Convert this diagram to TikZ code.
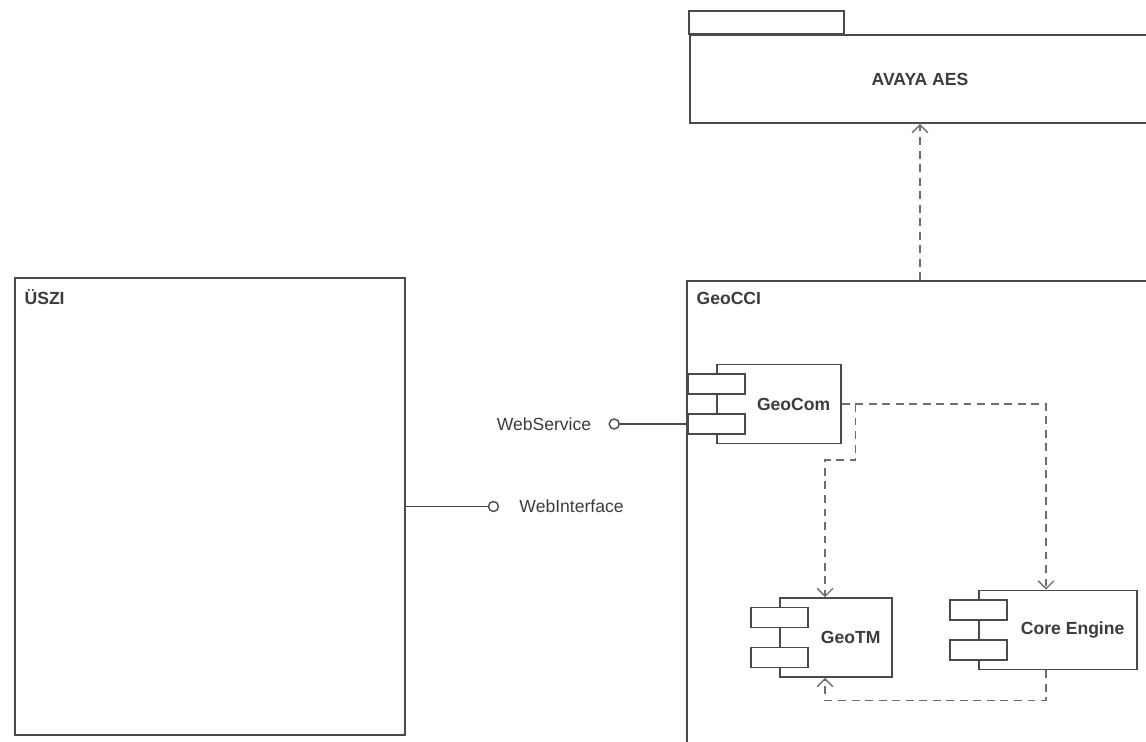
\documentclass[tikz,border=0pt]{standalone}
\usepackage{fontspec}
\setmainfont{Liberation Sans}
\usetikzlibrary{positioning,calc,arrows.meta}

\definecolor{linegray}{HTML}{4A4A4A}
\definecolor{dashgray}{HTML}{6E6E6E}
\definecolor{textgray}{HTML}{3C3C3C}

\tikzset{
  box/.style={draw=linegray, line width=0.9pt, fill=white, inner sep=0pt,
    text=textgray, font=\fontsize{10}{12}\selectfont\bfseries},
  comp/.style={box, minimum width=#1, minimum height=1.58cm},
  port/.style={box, minimum width=1.14cm, minimum height=0.4cm},
  dep/.style={draw=dashgray, line width=0.8pt, dash pattern=on 4.5pt off 3.2pt,
    -{Straight Barb[length=4.5pt,width=9pt]}},
  conn/.style={draw=linegray, line width=0.8pt},
  lolly/.style={circle, draw=linegray, line width=0.8pt, fill=white,
    minimum size=0.2cm, inner sep=0pt},
  txt/.style={text=textgray, font=\fontsize{10}{12}\selectfont, inner sep=0pt},
  title/.style={txt, font=\fontsize{10}{12}\selectfont\bfseries},
}

\begin{document}
\begin{tikzpicture}[x=0.02cm, y=-0.02cm]

\useasboundingbox (0,0) rectangle (1146,741);
\clip (0,0) rectangle (1146,741);

% AVAYA AES package
\node[box, minimum width=9.2cm, minimum height=1.76cm] (avaya) at (920,79) {AVAYA AES};
\draw[box] (avaya.north west) rectangle ++(155,-23);

% USZI
\node[box, minimum width=7.8cm, minimum height=9.14cm] (uszi) at (210,506.5) {};
\node[title, below right=0.24cm and 0.2cm of uszi.north west] (usziname) {ÜSZI};

% GeoCCI
\node[box, minimum width=10.26cm, minimum height=10.38cm] (geocci) at (943.5,540.5) {};
\node[title, below right=0.24cm and 0.2cm of geocci.north west] (geocciname) {GeoCCI};

% GeoCom
\node[comp=2.48cm] (geocom) at (779,404) {};
\node[port] (geocom-p1) at ([yshift=0.4cm]geocom.west) {};
\node[port] (geocom-p2) at ([yshift=-0.4cm]geocom.west) {};
\node[title] (geocomname) at ($(geocom.east)!0.5!(geocom-p1.east |- geocom.center)$) {GeoCom};

% GeoTM
\node[comp=2.24cm] (geotm) at (836,637.5) {};
\node[port] (geotm-p1) at ([yshift=0.4cm]geotm.west) {};
\node[port] (geotm-p2) at ([yshift=-0.4cm]geotm.west) {};
\node[title] (geotmname) at ($(geotm.east)!0.5!(geotm-p1.east |- geotm.center)$) {GeoTM};

% Core Engine
\node[comp=3.16cm] (core) at (1058,630) {};
\node[port] (core-p1) at ([yshift=0.4cm]core.west) {};
\node[port] (core-p2) at ([yshift=-0.4cm]core.west) {};
\node[title] (corename) at ($(core.east)!0.5!(core-p1.east |- core.center)$) {Core Engine};

% Dependencies
\draw[dep] (geocci.north -| avaya.south) -- (avaya.south);
\draw[dep] (geocom.east) -| ([xshift=-0.24cm]core.north);
\draw[dep] ([xshift=0.28cm]geocom.east) -- ++(0,56) -| ([xshift=-0.22cm]geotm.north);
\draw[dep] ([xshift=-0.24cm]core.south) -- ++(0,30) -| ([xshift=-0.22cm]geotm.south);

% Interfaces
\node[lolly, left=1.34cm of geocom-p2.west] (websvc) {};
\draw[conn] (websvc) -- (geocom-p2.west);
\node[txt, left=0.34cm of websvc] (websvcname) {WebService};

\node[lolly, right=1.64cm of uszi.east] (webif) {};
\draw[conn] (uszi.east) -- (webif);
\node[txt, right=0.4cm of webif] (webifname) {WebInterface};

\end{tikzpicture}
\end{document}
